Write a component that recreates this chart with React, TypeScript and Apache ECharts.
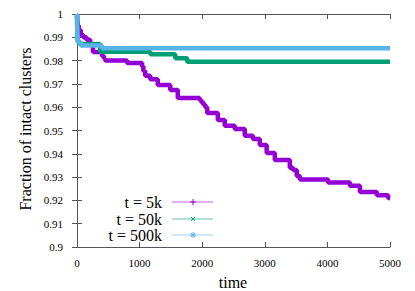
import React, { useEffect, useRef } from "react";
import * as echarts from "echarts";

const seriesNames = ["t = 5k", "t = 50k", "t = 500k"];
const seriesColors = ["#9400d3", "#009e73", "#56b4e9"];

// step data: time where a level starts, and the level
const t5kTime = [0, 5, 15, 30, 60, 100, 150, 210, 255, 400, 430, 450, 800, 1040, 1060, 1090, 1170, 1290, 1490, 1610, 1960, 1990, 2020, 2050, 2080, 2250, 2360, 2520, 2680, 2810, 2920, 3030, 3160, 3400, 3450, 3510, 3560, 4010, 4360, 4520, 4790, 4970, 5000];
const t5kValue = [1, 0.997, 0.995, 0.993, 0.991, 0.99, 0.989, 0.987, 0.9837, 0.982, 0.981, 0.98, 0.979, 0.9775, 0.9755, 0.9735, 0.972, 0.9695, 0.9674, 0.964, 0.963, 0.962, 0.961, 0.96, 0.9575, 0.9545, 0.952, 0.9506, 0.9477, 0.9464, 0.9438, 0.9403, 0.9373, 0.934, 0.933, 0.9305, 0.929, 0.9277, 0.9263, 0.9236, 0.9222, 0.921, 0.921];

const t50kTime = [0, 3, 8, 15, 40, 370, 1170, 1570, 1760, 5000];
const t50kValue = [1, 0.995, 0.99, 0.988, 0.9871, 0.9838, 0.9827, 0.981, 0.9795, 0.9795];

const t500kTime = [0, 3, 8, 15, 60, 400, 5000];
const t500kValue = [1, 0.995, 0.99, 0.988, 0.9865, 0.9853, 0.9853];

const xMin = 0, xMax = 5000, xStep = 1000;
const yMin = 0.9, yMax = 1, yStep = 0.01;

const FONT = '"Liberation Serif", "DejaVu Serif", serif';

export default function App() {
  const ref = useRef<HTMLDivElement>(null);
  useEffect(() => {
    const chart = echarts.init(ref.current!, null, { renderer: "svg" });
    const times = [t5kTime, t50kTime, t500kTime];
    const values = [t5kValue, t50kValue, t500kValue];
    const axisLine = { show: true, lineStyle: { color: "#555", width: 1 } };
    const tick = { show: true, inside: true, length: 5, lineStyle: { color: "#555" } };
    const legendY = [202, 219, 235];
    const graphics: any[] = [];
    seriesNames.forEach((n, i) => {
      const y = legendY[i];
      graphics.push({
        type: "text",
        x: 162,
        y,
        style: { text: n, font: `16px ${FONT}`, fill: "#000", textAlign: "right", textVerticalAlign: "middle" },
      });
      graphics.push({
        type: "line",
        shape: { x1: 172, y1: y, x2: 213, y2: y },
        style: { stroke: seriesColors[i], lineWidth: 1, opacity: 0.6 },
      });
      const c = seriesColors[i];
      if (i === 0 || i === 2) {
        graphics.push({ type: "line", shape: { x1: 190, y1: y, x2: 196, y2: y }, style: { stroke: c, lineWidth: 1 } });
        graphics.push({ type: "line", shape: { x1: 193, y1: y - 3, x2: 193, y2: y + 3 }, style: { stroke: c, lineWidth: 1 } });
      }
      if (i === 1 || i === 2) {
        graphics.push({ type: "line", shape: { x1: 191, y1: y - 2, x2: 195, y2: y + 2 }, style: { stroke: c, lineWidth: 1 } });
        graphics.push({ type: "line", shape: { x1: 191, y1: y + 2, x2: 195, y2: y - 2 }, style: { stroke: c, lineWidth: 1 } });
      }
    });
    graphics.push({
      type: "text",
      x: 233,
      y: 282,
      style: { text: "time", font: `16px ${FONT}`, fill: "#000", textAlign: "center", textVerticalAlign: "middle" },
    });
    graphics.push({
      type: "text",
      x: 25,
      y: 129,
      rotation: Math.PI / 2,
      style: { text: "Fraction of intact clusters", font: `16px ${FONT}`, fill: "#000", textAlign: "center", textVerticalAlign: "middle" },
    });

    chart.setOption({
      animation: false,
      textStyle: { fontFamily: FONT },
      grid: { left: 77, right: 25, top: 14, bottom: 44 },
      xAxis: [
        {
          type: "value", min: xMin, max: xMax, interval: xStep,
          axisLine, axisTick: tick, splitLine: { show: false },
          axisLabel: { color: "#000", fontFamily: FONT, fontSize: 11, margin: 10, formatter: (v: number) => String(v) },
        },
        {
          type: "value", position: "top", min: xMin, max: xMax, interval: xStep,
          axisLine, axisTick: tick, splitLine: { show: false }, axisLabel: { show: false },
        },
      ],
      yAxis: [
        {
          type: "value", min: yMin, max: yMax, interval: yStep,
          axisLine, axisTick: tick, splitLine: { show: false },
          axisLabel: { color: "#000", fontFamily: FONT, fontSize: 11, margin: 14, formatter: (v: number) => String(+v.toFixed(2)) },
        },
        {
          type: "value", position: "right", min: yMin, max: yMax, interval: yStep,
          axisLine, axisTick: tick, splitLine: { show: false }, axisLabel: { show: false },
        },
      ],
      series: seriesNames.map((n, i) => ({
        type: "line",
        name: n,
        step: "end",
        showSymbol: false,
        symbol: "none",
        data: times[i].map((t, j) => [t, values[i][j]]),
        lineStyle: { color: seriesColors[i], width: 4.5 },
        z: 2 + i,
      })),
      graphic: graphics,
    });
    return () => chart.dispose();
  }, []);
  return <div ref={ref} style={{ width: 415, height: 291, position: "absolute", left: 0, top: 0 }} />;
}
